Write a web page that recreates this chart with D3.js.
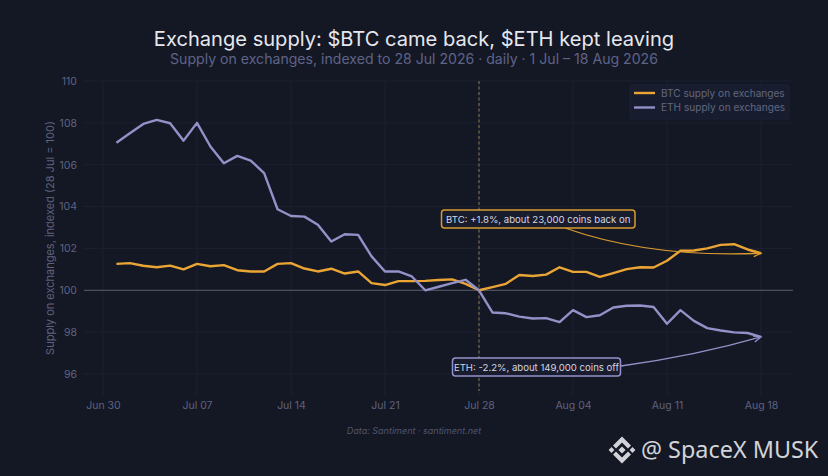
<!DOCTYPE html>
<html><head><meta charset="utf-8">
<script src="https://cdn.jsdelivr.net/npm/d3@7/dist/d3.min.js"></script>
<style>
html,body{margin:0;padding:0;background:#141824;}
svg{display:block;font-family:Inter,"Open Sans",sans-serif;}
</style></head><body><div id="c"></div>
<script>
const startDate = "2026-07-01";
const btcValues = [101.26,101.3,101.17,101.1,101.18,101.0,101.26,101.15,101.2,100.96,100.9,100.9,101.26,101.3,101.04,100.9,101.03,100.8,100.9,100.34,100.25,100.44,100.44,100.45,100.49,100.52,100.31,100,100.15,100.31,100.73,100.68,100.75,101.1,100.88,100.88,100.64,100.82,101.01,101.1,101.09,101.41,101.89,101.9,102.0,102.17,102.2,101.95,101.77];
const ethValues = [107.05,107.5,107.95,108.14,107.98,107.15,108.0,106.87,106.07,106.42,106.2,105.6,103.87,103.55,103.52,103.13,102.33,102.68,102.65,101.62,100.9,100.9,100.66,100.0,100.17,100.34,100.5,100,98.94,98.9,98.74,98.65,98.67,98.48,99.05,98.72,98.81,99.18,99.26,99.27,99.2,98.4,99.05,98.54,98.19,98.08,97.99,97.96,97.77];
const yTicks = [96,98,100,102,104,106,108,110];
const xTickDates = ["2026-06-30","2026-07-07","2026-07-14","2026-07-21","2026-07-28","2026-08-04","2026-08-11","2026-08-18"];
const seriesNames = ["BTC supply on exchanges","ETH supply on exchanges"];
const titleText = "Exchange supply: $BTC came back, $ETH kept leaving";
const subtitleText = "Supply on exchanges, indexed to 28 Jul 2026 · daily · 1 Jul – 18 Aug 2026";
const yLabel = "Supply on exchanges, indexed (28 Jul = 100)";
const sourceText = "Data: Santiment · santiment.net";
const markerDate = "2026-07-28";
const btcNote = "BTC: +1.8%, about 23,000 coins back on";
const ethNote = "ETH: -2.2%, about 149,000 coins off";
const watermark = "@ SpaceX MUSK";

const W=828,H=476,BTC="#eba535",ETH="#9490c8";
const parse=d3.utcParse("%Y-%m-%d");
const days=btcValues.map((_,i)=>d3.utcDay.offset(parse(startDate),i));
const x=d3.scaleUtc().domain([parse("2026-06-30"),parse("2026-08-18")]).range([103,761]);
const y=d3.scaleLinear().domain([96,110]).range([374,81]);
const L=84,R=793,T=81,B=395;
const svg=d3.select("#c").append("svg").attr("width",W).attr("height",H).attr("viewBox",[0,0,W,H]);
svg.append("rect").attr("width",W).attr("height",H).attr("fill","#141824");

svg.append("g").selectAll("line").data(yTicks).join("line")
 .attr("x1",L).attr("x2",R).attr("y1",d=>y(d)).attr("y2",d=>y(d)).attr("stroke","#1c2030").attr("stroke-width",1);
svg.append("g").selectAll("line").data(xTickDates).join("line")
 .attr("x1",d=>x(parse(d))).attr("x2",d=>x(parse(d))).attr("y1",T).attr("y2",B).attr("stroke","#1c2030").attr("stroke-width",1);

const yAxis=svg.append("g").attr("transform",`translate(${L},0)`).call(d3.axisLeft(y).tickValues(yTicks).tickSize(0).tickPadding(7).tickFormat(d3.format("d")));
yAxis.select(".domain").remove();
yAxis.selectAll("text").attr("fill","#5f6280").attr("font-size",10.5).attr("font-family","Inter");
const xAxis=svg.append("g").attr("transform",`translate(0,${B})`).call(d3.axisBottom(x).tickValues(xTickDates.map(parse)).tickSize(0).tickPadding(7).tickFormat(d3.utcFormat("%b %d")));
xAxis.select(".domain").remove();
xAxis.selectAll("text").attr("fill","#5f6280").attr("font-size",10.5).attr("font-family","Inter");

svg.append("line").attr("x1",L).attr("x2",R).attr("y1",y(100)).attr("y2",y(100)).attr("stroke","#5a5d6c").attr("stroke-width",1);
svg.append("line").attr("x1",x(parse(markerDate))).attr("x2",x(parse(markerDate))).attr("y1",T).attr("y2",B-4)
 .attr("stroke","#8a7a55").attr("stroke-width",1).attr("stroke-dasharray","3 2.5");

const line=d3.line().x((d,i)=>x(days[i])).y(d=>y(d));
svg.append("path").datum(btcValues).attr("d",line).attr("fill","none").attr("stroke",BTC).attr("stroke-width",2.4).attr("stroke-linejoin","round");
svg.append("path").datum(ethValues).attr("d",line).attr("fill","none").attr("stroke",ETH).attr("stroke-width",2.4).attr("stroke-linejoin","round");

svg.append("text").attr("x",414).attr("y",46).attr("text-anchor","middle").attr("fill","#e6e7ee").attr("font-size",20.1).attr("font-weight",400).text(titleText);
svg.append("text").attr("x",414).attr("y",64).attr("text-anchor","middle").attr("fill","#5f6388").attr("font-size",14.1).text(subtitleText);
svg.append("text").attr("transform",`translate(54,238) rotate(-90)`).attr("text-anchor","middle").attr("fill","#5f6280").attr("font-size",11).text(yLabel);
svg.append("text").attr("x",414).attr("y",434).attr("text-anchor","middle").attr("fill","#50546c").attr("font-size",9).attr("font-style","italic").text(sourceText);

const lg=svg.append("g");
lg.append("rect").attr("x",630).attr("y",85).attr("width",159).attr("height",34).attr("rx",2).attr("fill","#171d2e").attr("stroke","#1c2235");
seriesNames.forEach((n,i)=>{
 const yy=93+i*14.5;
 lg.append("line").attr("x1",634).attr("x2",655).attr("y1",yy).attr("y2",yy).attr("stroke",i?ETH:BTC).attr("stroke-width",2.4);
 lg.append("text").attr("x",661).attr("y",yy+3.5).attr("fill","#62667f").attr("font-size",10.1).text(n);
});

function note(text,color,bx,by,bw,bh,sx,sy,cx,cy,date,val){
 const ex=x(parse(date)),ey=y(val);
 svg.append("path").attr("d",`M${sx},${sy}Q${cx},${cy} ${ex},${ey}`).attr("fill","none").attr("stroke",color).attr("stroke-width",1.3);
 const a=Math.atan2(ey-cy,ex-cx);
 const p=(r,t)=>[ex-r*Math.cos(a+t),ey-r*Math.sin(a+t)];
 svg.append("path").attr("d",`M${p(8,0.4)}L${ex},${ey}L${p(8,-0.4)}`).attr("fill","none").attr("stroke",color).attr("stroke-width",1.3);
 svg.append("rect").attr("x",bx).attr("y",by).attr("width",bw).attr("height",bh).attr("rx",3).attr("fill","#181c2c").attr("stroke",color).attr("stroke-width",1.5);
 svg.append("text").attr("x",bx+bw/2).attr("y",by+bh/2+3.5).attr("text-anchor","middle").attr("fill","#d4d5e0").attr("font-size",9.6).text(text);
}
note(btcNote,"#d99a30",441.5,210,193.5,18,565,228,650,258,"2026-08-18",101.77);
note(ethNote,ETH,452.5,358,168,18,621,366,695,356,"2026-08-18",97.77);

const wm=svg.append("g").attr("fill","#d2d3d8");
wm.append("text").attr("x",641).attr("y",458).attr("font-family","'Noto Sans','Open Sans'").attr("font-size",23.4).text(watermark);
const cx0=622,cy0=450;
const glyph=[
 [[0,-13.5],[9,-4.5],[6,-1.5],[0,-7.5],[-6,-1.5],[-9,-4.5]],
 [[0,13.5],[9,4.5],[6,1.5],[0,7.5],[-6,1.5],[-9,4.5]],
 [[0,-3.6],[3.6,0],[0,3.6],[-3.6,0]],
 [[-10.5,-2.9],[-7.6,0],[-10.5,2.9],[-13.4,0]],
 [[10.5,-2.9],[13.4,0],[10.5,2.9],[7.6,0]]
];
wm.selectAll("path").data(glyph).join("path").attr("d",g=>"M"+g.map(p=>[cx0+p[0],cy0+p[1]].join(",")).join("L")+"Z");
</script></body></html>
